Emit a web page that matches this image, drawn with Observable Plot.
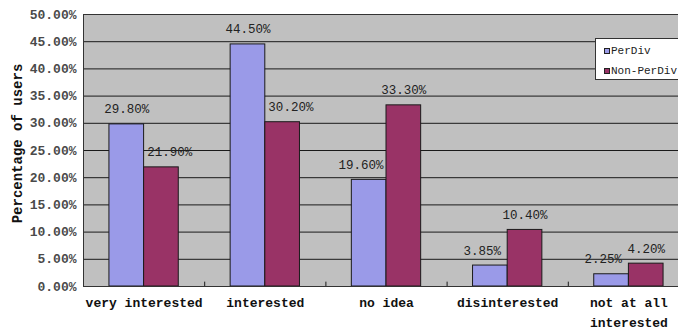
<!DOCTYPE html>
<html>
<head>
<meta charset="utf-8">
<script src="https://cdn.jsdelivr.net/npm/d3@7"></script>
<script src="https://cdn.jsdelivr.net/npm/@observablehq/plot@0.6"></script>
<style>
  html, body { margin: 0; padding: 0; background: #fff; overflow: hidden; }
  #chart { position: relative; width: 678px; height: 331px; overflow: hidden; }
  .legend {
    position: absolute; left: 595px; top: 38px; width: 96px; height: 42px;
    background: #fff; border: 1px solid #333; box-sizing: border-box;
    font-family: "Liberation Mono", monospace; font-size: 11px; color: #222;
  }
  .legend .item { position: absolute; left: 8px; display: flex; align-items: center; height: 14px; }
  .legend .sw { width: 4px; height: 4px; border: 1px solid #222; margin-right: 1px; }
</style>
</head>
<body>
<div id="chart"></div>
<script>
// Interest survey: share of users per answer, for two groups
const categories = ["very interested", "interested", "no idea", "disinterested", "not at all\ninterested"];
const series = ["PerDiv", "Non-PerDiv"];
const perDiv = [29.8, 44.5, 19.6, 3.85, 2.25];
const nonPerDiv = [21.9, 30.2, 33.3, 10.4, 4.2];
const yTicks = [0, 5, 10, 15, 20, 25, 30, 35, 40, 45, 50];
const colors = ["#9a9ae8", "#993366"];

const rows = categories.flatMap((cat, i) => [
  {cat, i, s: 0, value: perDiv[i], other: nonPerDiv[i]},
  {cat, i, s: 1, value: nonPerDiv[i], other: perDiv[i]}
]);

const BAR = 0.286;   // bar width, in category units
const NUDGE = 0.068; // label shift away from a taller neighbouring bar
const centers = categories.map((_, i) => i + 0.5);
const bounds = categories.slice(1).map((_, i) => i + 1);

const x1 = d => d.i + 0.5 - (d.s === 0 ? BAR : 0);
const x2 = d => d.i + 0.5 + (d.s === 1 ? BAR : 0);
const labelX = d => d.i + 0.5 + (d.s === 0 ? -BAR / 2 : BAR / 2)
  + (d.other > d.value ? (d.s === 0 ? -NUDGE : NUDGE) : 0);

const mono = "Liberation Mono, DejaVu Sans Mono, monospace";

const chart = Plot.plot({
  width: 678,
  height: 331,
  marginLeft: 83,
  marginRight: -11,
  marginTop: 14,
  marginBottom: 45,
  style: {background: "#fff", fontFamily: mono},
  x: {domain: [0, 5]},
  y: {domain: [0, 50]},
  color: {domain: series, range: colors},
  marks: [
    Plot.frame({fill: "#c0c0c0"}),
    Plot.gridY(yTicks, {stroke: "#1a1a1a", strokeOpacity: 1}),
    Plot.ruleX(bounds, {y1: 0, y2: 0.8, stroke: "#1a1a1a"}),
    Plot.rectY(rows, {x1, x2, y1: 0, y2: "value", fill: d => series[d.s], stroke: "#1a1a1a", strokeWidth: 1}),
    Plot.text(rows, {
      x: labelX, y: "value", text: d => d.value.toFixed(2) + "%",
      dy: -15, fontSize: 12.5, fill: "#222", fontFamily: mono
    }),
    Plot.axisY(yTicks, {
      tickSize: 0, tickPadding: 7, label: null,
      tickFormat: d => d.toFixed(2) + "%",
      fontSize: 13, fontWeight: "bold", fill: "#4a4a4a", fontFamily: mono
    }),
    Plot.axisX(centers, {
      tickSize: 0, tickPadding: 7, label: null,
      tickFormat: d => categories[Math.floor(d)],
      fontSize: 13, fontWeight: "bold", fill: "#111", lineHeight: 1.5, fontFamily: mono
    }),
    Plot.text(["Percentage of users"], {
      frameAnchor: "left", textAnchor: "middle", lineAnchor: "middle",
      rotate: -90, dx: -66, dy: -7,
      fontSize: 14, fontWeight: "bold", fill: "#111", fontFamily: mono
    }),
    Plot.frame({stroke: "#333"})
  ]
});

const root = document.getElementById("chart");
root.appendChild(chart);

// Legend box drawn over the upper right of the plot area
const legend = document.createElement("div");
legend.className = "legend";
series.forEach((name, k) => {
  const item = document.createElement("div");
  item.className = "item";
  item.style.top = (5 + k * 20) + "px";
  const sw = document.createElement("span");
  sw.className = "sw";
  sw.style.background = colors[k];
  const label = document.createElement("span");
  label.textContent = name;
  item.appendChild(sw);
  item.appendChild(label);
  legend.appendChild(item);
});
root.appendChild(legend);
</script>
</body>
</html>
